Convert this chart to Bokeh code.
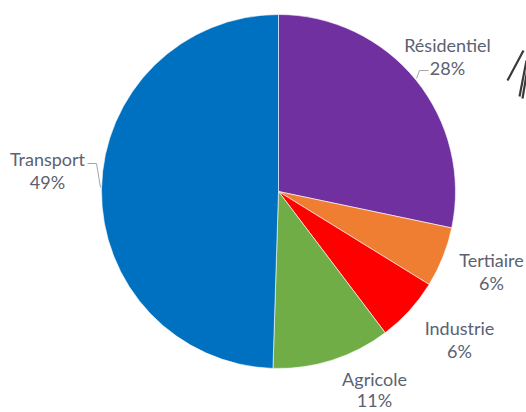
import math
from bokeh.plotting import figure
from bokeh.models import Range1d
from bokeh.core.properties import value
from bokeh.embed import file_html
from bokeh.resources import INLINE

# data
categories = ["Résidentiel", "Tertiaire", "Industrie", "Agricole", "Transport"]
shares = [28.3, 5.5, 5.9, 10.8, 49.5]
pct_labels = ["28%", "6%", "6%", "11%", "49%"]
colors = ["#7030A0", "#EF7E32", "#FF0000", "#70AD47", "#0070C0"]

# layout (screen px)
W, H = 526, 412
def sy(y):
    return H - y

cx, cy, R = 278, 191, 177
name_pos = {"Résidentiel": (447, 44), "Tertiaire": (491, 259), "Industrie": (459, 327),
            "Agricole": (374, 378), "Transport": (47, 158)}
line_gaps = {"Résidentiel": 23, "Tertiaire": 23, "Industrie": 23, "Agricole": 21, "Transport": 23}

p = figure(width=W, height=H, x_range=Range1d(0, W), y_range=Range1d(0, H),
           output_backend="svg", toolbar_location=None, min_border=0)
p.axis.visible = False
p.grid.visible = False
p.outline_line_color = None
p.background_fill_color = "white"

total = float(sum(shares))
cum = 0.0
starts, ends = [], []
for s in shares:
    a0 = math.pi / 2 - 2 * math.pi * cum / total
    cum += s
    a1 = math.pi / 2 - 2 * math.pi * cum / total
    starts.append(a0)
    ends.append(a1)

p.wedge(x=[cx] * len(shares), y=[sy(cy)] * len(shares), radius=R,
        start_angle=starts, end_angle=ends, direction="clock",
        fill_color=colors, line_color="white", line_width=0.6)

# leader lines
p.line(x=[416, 419, 428], y=[sy(78), sy(70), sy(70)], line_color="#A6A6A6", line_width=1)
p.line(x=[87, 96, 100], y=[sy(163), sy(163), sy(187)], line_color="#A6A6A6", line_width=1)

# cropped decoration at top-right edge
p.multi_line(xs=[[523, 507], [526, 519], [527, 522]], ys=[[sy(50), sy(80)], [sy(60), sy(96)], [sy(68), sy(98)]],
             line_color="#3A3A3A", line_width=2.2)

nx = [name_pos[c][0] for c in categories]
ny = [sy(name_pos[c][1]) for c in categories]
py = [sy(name_pos[c][1] + line_gaps[c]) for c in categories]
font = value("Lato")
p.text(x=nx, y=ny, text=categories, text_align="center", text_baseline="alphabetic",
       text_font=font, text_font_size="18px", text_color="#5A6272")
p.text(x=nx, y=py, text=pct_labels, text_align="center", text_baseline="alphabetic",
       text_font=font, text_font_size="18px", text_color="#5A6272")

open("out.html", "w").write(file_html(p, INLINE))
